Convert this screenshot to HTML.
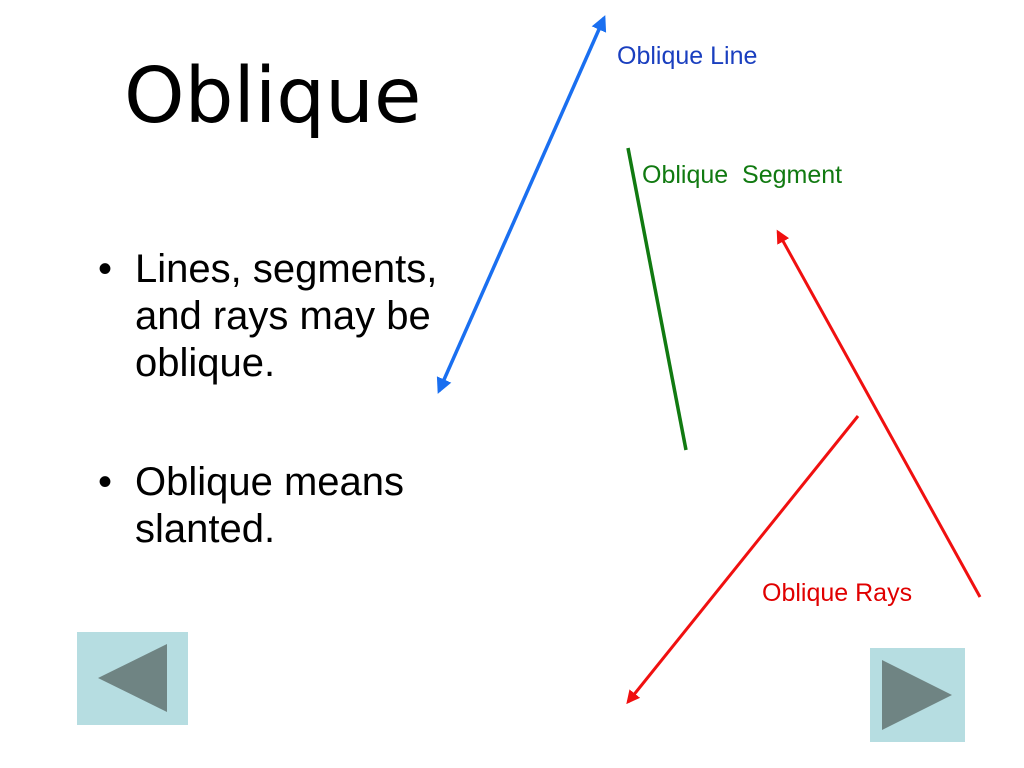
<!DOCTYPE html>
<html><head><style>
body{margin:0;width:1024px;height:768px;background:#fff;position:relative;overflow:hidden;font-family:"Liberation Sans",sans-serif}
.t{position:absolute;left:124px;top:52px;font-family:"Comic Sans MS","DejaVu Sans",sans-serif;font-size:77px;color:#000}
ul{position:absolute;left:92px;top:246px;margin:0;padding:0;list-style:none;font-size:40px;line-height:47px}
li{position:relative;padding-left:43px;margin-bottom:72px}
li:before{content:"•";position:absolute;left:6px}
.l{position:absolute;font-size:25px}
</style></head><body>
<div class="t">Oblique</div>
<ul><li>Lines, segments,<br>and rays may be<br>oblique.</li><li>Oblique means<br>slanted.</li></ul>
<div class="l" style="left:617px;top:42px;color:#1a3fbf">Oblique Line</div>
<div class="l" style="left:642px;top:161px;color:#117a11">Oblique&nbsp; Segment</div>
<div class="l" style="left:762px;top:579px;color:#e00000">Oblique Rays</div>
<svg width="1024" height="768" style="position:absolute;left:0;top:0">
<defs>
<marker id="b" viewBox="0 0 10 10" refX="8" refY="5" markerWidth="4.5" markerHeight="4.5" orient="auto-start-reverse"><path d="M0,0L10,5L0,10z" fill="#1a6ff0"/></marker>
<marker id="r" viewBox="0 0 10 10" refX="8" refY="5" markerWidth="4.5" markerHeight="4.5" orient="auto"><path d="M0,0L10,5L0,10z" fill="#f01010"/></marker>
</defs>
<line x1="439" y1="391" x2="604" y2="18" stroke="#1a6ff0" stroke-width="3.5" marker-start="url(#b)" marker-end="url(#b)"/>
<line x1="628" y1="148" x2="686" y2="450" stroke="#117a11" stroke-width="3.5"/>
<line x1="980" y1="597" x2="778" y2="232" stroke="#f01010" stroke-width="3" marker-end="url(#r)"/>
<line x1="858" y1="416" x2="628" y2="702" stroke="#f01010" stroke-width="3" marker-end="url(#r)"/>
<rect x="77" y="632" width="111" height="93" fill="#b6dde1"/>
<polygon points="98,678 167,644 167,712" fill="#6f8483"/>
<rect x="870" y="648" width="95" height="94" fill="#b6dde1"/>
<polygon points="882,660 882,730 952,695" fill="#6f8483"/>
</svg>
</body></html>
